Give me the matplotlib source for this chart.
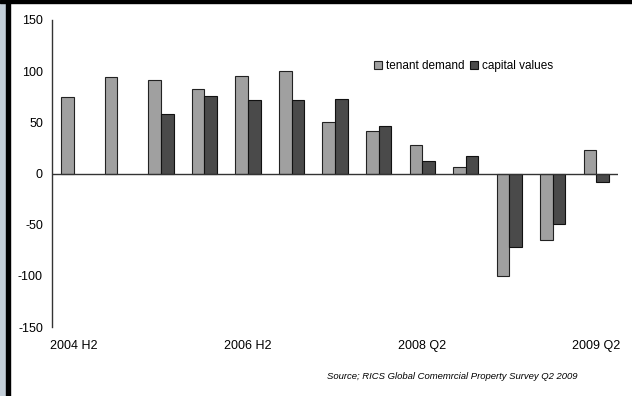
import numpy as np
import matplotlib.pyplot as plt
from matplotlib.patches import Rectangle

plt.rcParams['font.family'] = ['Liberation Sans', 'DejaVu Sans']
plt.rcParams['axes.unicode_minus'] = False

periods = ['2004 H2', '2005 H1', '2005 H2', '2006 H1', '2006 H2', '2007 H1', '2007 H2',
           '2008 Q1', '2008 Q2', '2008 Q3', '2008 Q4', '2009 Q1', '2009 Q2']
tenant_demand = [75, 94, 91, 83, 95, 100, 50, 42, 28, 6, -100, -65, 23]
capital_values = [np.nan, np.nan, 58, 76, 72, 72, 73, 46, 12, 17, -72, -49, -8]
shown_labels = ['2004 H2', '2006 H2', '2008 Q2', '2009 Q2']

fig = plt.figure(figsize=(6.32, 3.96), dpi=100)
ax = fig.add_axes([0.0823, 0.1742, 0.8957, 0.7753])

x = np.arange(len(periods))
w = 0.29
ax.bar(x - w/2, tenant_demand, w, color='#a0a0a0', edgecolor='#222222', linewidth=0.8,
       label='tenant demand', zorder=2)
ax.bar(x + w/2, capital_values, w, color='#4a4a4a', edgecolor='#111111', linewidth=0.8,
       label='capital values', zorder=2)

ax.axhline(0, color='#333333', linewidth=1, zorder=3)
ax.set_xlim(-0.5, len(periods) - 0.5)
ax.set_ylim(-150, 150)
ax.set_yticks([-150, -100, -50, 0, 50, 100, 150])
ax.set_xticks([periods.index(p) for p in shown_labels])
ax.set_xticklabels(shown_labels)
ax.tick_params(axis='both', length=0, labelsize=9, colors='black')
ax.tick_params(axis='y', pad=6.5)
ax.tick_params(axis='x', pad=9)
for s in ['top', 'right', 'bottom']:
    ax.spines[s].set_visible(False)
ax.spines['left'].set_color('#333333')
ax.spines['left'].set_linewidth(1)

ax.legend(loc='upper left', bbox_to_anchor=(0.56, 0.885), ncol=2, frameon=False,
          fontsize=8.5, handlelength=0.7, handleheight=0.7, handletextpad=0.3,
          columnspacing=0.5, borderaxespad=0)

fig.text(0.517, 0.05, 'Source; RICS Global Comemrcial Property Survey Q2 2009',
         fontsize=6.8, style='italic', ha='left', va='center')

# frame on left and top
fig.patches.append(Rectangle((0, 0), 6/632, 1, transform=fig.transFigure,
                             color='#c3ced8', zorder=0))
fig.patches.append(Rectangle((6/632, 0), 3.5/632, 1, transform=fig.transFigure,
                             color='black', zorder=0))
fig.patches.append(Rectangle((0, 1 - 3/396), 1, 3/396, transform=fig.transFigure,
                             color='black', zorder=0))

fig.savefig('out.png', dpi=100)
